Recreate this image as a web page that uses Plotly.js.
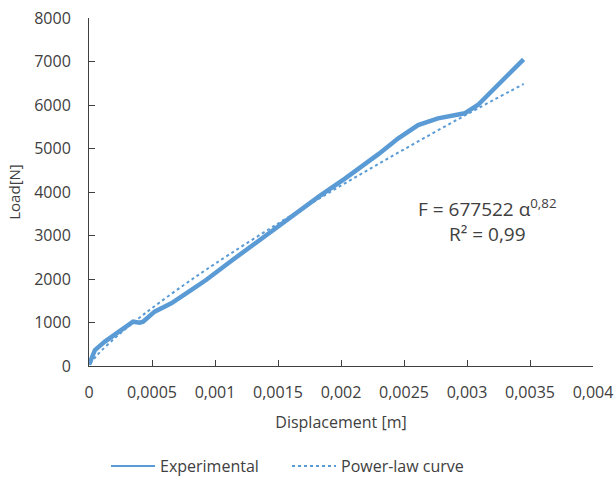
<!DOCTYPE html>
<html>
<head>
<meta charset="utf-8">
<script src="https://cdn.plot.ly/plotly-3.0.1.min.js"></script>
<style>html,body{margin:0;padding:0;background:#fff;}#chart{width:615px;height:477px;}</style>
</head>
<body>
<div id="chart"></div>
<script>
const expDisp = [0, 0.000025, 0.0000474, 0.000126, 0.000205, 0.000284, 0.00035, 0.000403, 0.000429, 0.000521, 0.000653, 0.00081, 0.000929, 0.001139, 0.001403, 0.001612, 0.001823, 0.002034, 0.002218, 0.002297, 0.002455, 0.002612, 0.00277, 0.002875, 0.002981, 0.003086, 0.003218, 0.003349, 0.003449];
const expLoad = [30, 200, 368, 560, 713, 866, 1019, 997, 1019, 1249, 1440, 1747, 1977, 2437, 3011, 3433, 3892, 4314, 4697, 4870, 5234, 5540, 5694, 5747, 5809, 6000, 6383, 6766, 7050];

// Power-law curve
const fitDisp = [0.00001, 0.00005, 0.0001, 0.0002, 0.0003, 0.0004, 0.0005, 0.00075, 0.001, 0.0015, 0.002, 0.0025, 0.003, 0.00345];
const fitLoad = [54, 201, 356, 628, 875, 1108, 1331, 1856, 2350, 3275, 4147, 4980, 5786, 6483];

const xTickVals = [0, 0.0005, 0.001, 0.0015, 0.002, 0.0025, 0.003, 0.0035, 0.004];
const xTickText = ["0", "0,0005", "0,001", "0,0015", "0,002", "0,0025", "0,003", "0,0035", "0,004"];
const yTickVals = [0, 1000, 2000, 3000, 4000, 5000, 6000, 7000, 8000];

const FONT = "'Open Sans', Lato, sans-serif";
const TXT = "#404040";
const BLUE = "#5B9BD5";

const traces = [
  {x: expDisp, y: expLoad, name: "Experimental", type: "scatter", mode: "lines",
   line: {color: BLUE, width: 4.5}, showlegend: false},
  // legend entry for the experimental series (thin line sample, as in the reference)
  {x: [null], y: [null], name: "Experimental", type: "scatter", mode: "lines",
   line: {color: BLUE, width: 2}},
  {x: fitDisp, y: fitLoad, name: "Power-law curve", type: "scatter", mode: "lines",
   line: {color: BLUE, width: 2, dash: "dot", shape: "spline"}}
];

const layout = {
  width: 615, height: 477,
  margin: {l: 89, r: 22, t: 18, b: 111},
  paper_bgcolor: "#fff", plot_bgcolor: "#fff",
  font: {family: FONT, color: TXT, size: 16},
  showlegend: true,
  legend: {orientation: "h", xref: "container", yref: "container",
           x: 106 / 615, xanchor: "left", y: (477 - 466) / 477, yanchor: "middle",
           entrywidth: 122, entrywidthmode: "pixels", itemwidth: 44,
           font: {family: FONT, size: 16, color: TXT}, traceorder: "normal"},
  xaxis: {range: [0, 0.004], tickvals: xTickVals, ticktext: xTickText, automargin: false,
          showline: true, linecolor: "#404040", linewidth: 1, showgrid: false, zeroline: false,
          ticks: "inside", ticklen: 6, tickcolor: "#404040", ticklabelstandoff: 12,
          tickfont: {family: FONT, size: 16, color: TXT},
          title: {text: "Displacement [m]", font: {family: FONT, size: 16, color: TXT}, standoff: 14}},
  yaxis: {range: [0, 8000], tickvals: yTickVals, automargin: false,
          showline: true, linecolor: "#404040", linewidth: 1, showgrid: false, zeroline: false,
          ticks: "inside", ticklen: 6, tickcolor: "#404040", ticklabelstandoff: 14,
          tickfont: {family: FONT, size: 16, color: TXT},
          title: {text: "Load[N]", font: {family: FONT, size: 15, color: TXT}, standoff: 9}},
  annotations: [
    {xref: "paper", yref: "paper", x: (487 - 89) / 503.7, y: (366 - 221) / 348,
     xanchor: "center", yanchor: "middle", align: "center",
     text: "F = 677522 α<sup>0,82</sup><br>R² = 0,99", showarrow: false,
     font: {family: FONT, size: 19, color: TXT}}
  ]
};

Plotly.newPlot("chart", traces, layout, {displayModeBar: false, staticPlot: true});
</script>
</body>
</html>
